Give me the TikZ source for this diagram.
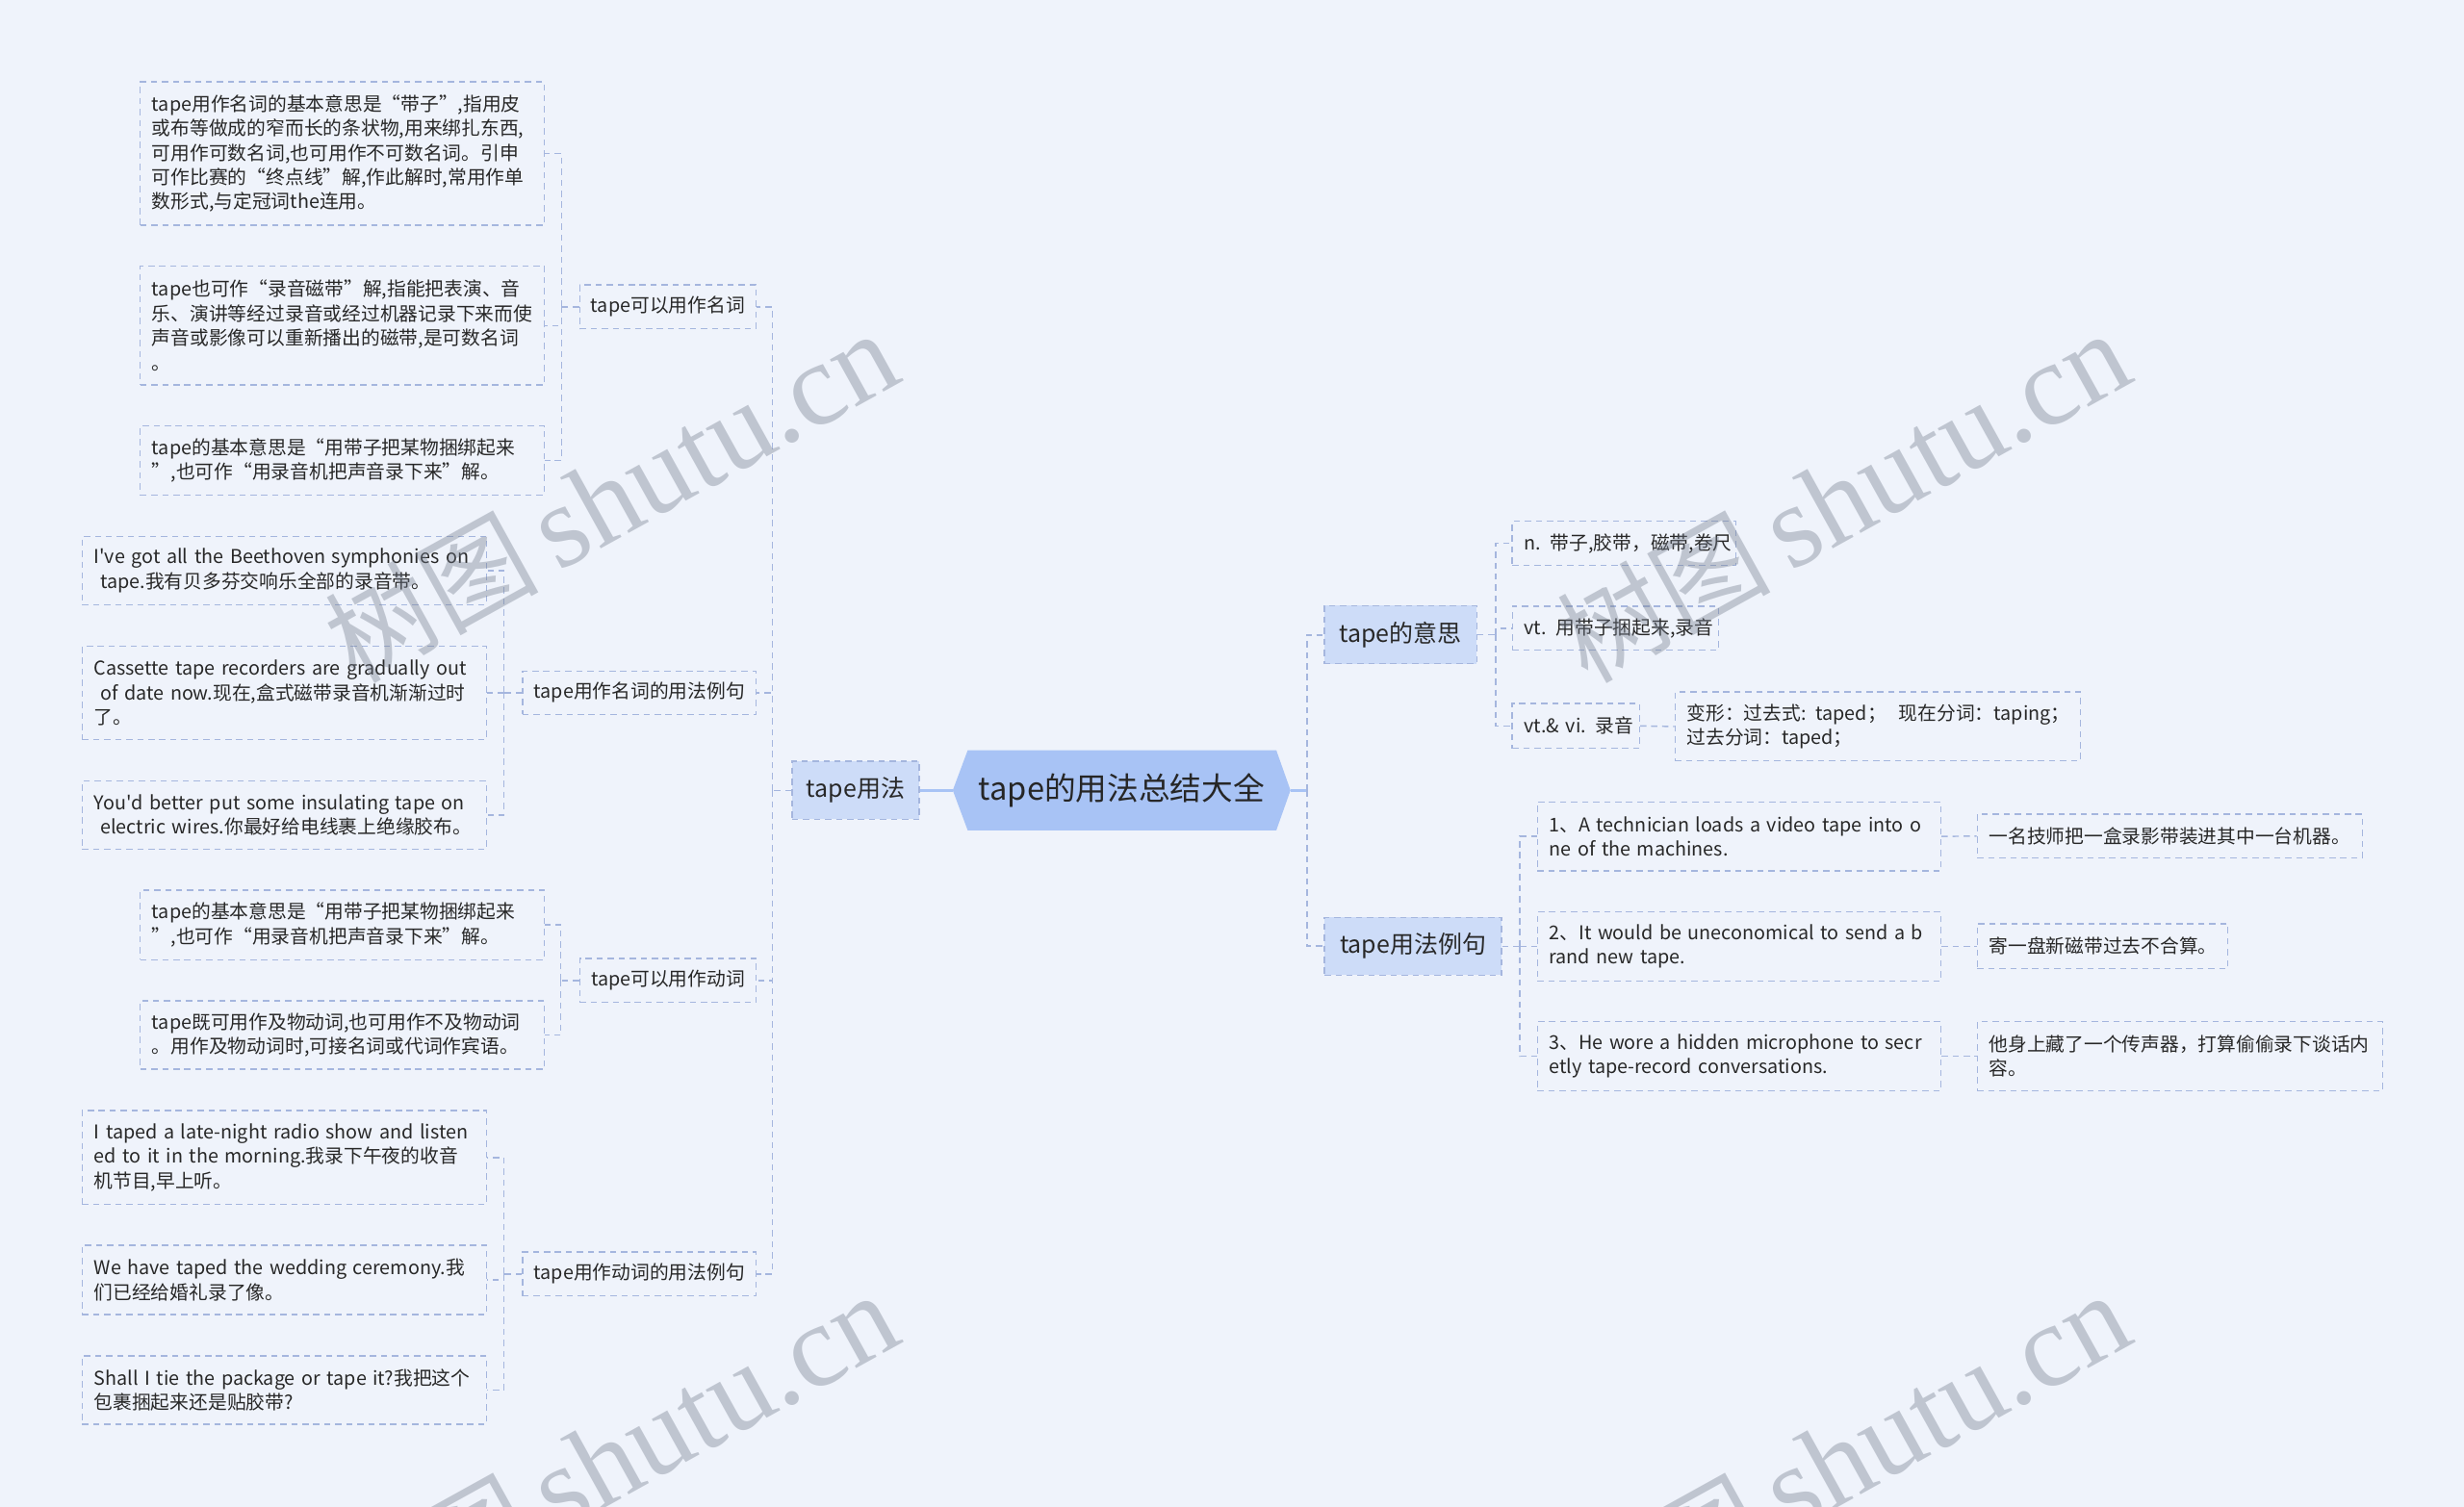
\documentclass[tikz,border=0pt]{standalone}
\usepackage{fontspec}
\setmainfont{Noto Sans CJK SC}
\newfontfamily\wmfont{Liberation Serif}
\usetikzlibrary{backgrounds}
\definecolor{bg}{RGB}{239,243,251}
\definecolor{rootfill}{RGB}{168,195,245}
\definecolor{lvfill}{RGB}{205,220,248}
\definecolor{lnc}{RGB}{165,182,222}
\definecolor{txt}{RGB}{40,40,40}
\definecolor{wm}{RGB}{115,124,140}
\tikzset{
  basetext/.style={text=txt, inner sep=0pt, font=\fontsize{12.1}{15.6}\selectfont},
  leafbox/.style={basetext, draw=lnc, dash pattern=on 4pt off 3pt, line width=0.8pt, align=left, inner xsep=7.5pt},
  catbox/.style={basetext, draw=lnc, dash pattern=on 4pt off 3pt, line width=0.8pt, align=center},
  lvbox/.style={basetext, draw=lnc, fill=lvfill, dash pattern=on 4pt off 3pt, line width=0.8pt, font=\fontsize{15.3}{17}\selectfont},
  conn/.style={draw=lnc, line width=0.9pt, dash pattern=on 4pt off 3pt},
  rootline/.style={draw=rootfill, line width=1.8pt},
  wmark/.style={text=wm, opacity=0.38, rotate=29, anchor=base west, inner sep=0pt}
}
\newcommand\wmtext{{\fontsize{68}{68}\selectfont 树图}\hspace{12pt}{\wmfont\fontsize{75}{75}\selectfont shutu.cn}}
\newcommand\apos{\textquotesingle}
\begin{document}
\begin{tikzpicture}[x=1pt,y=-1pt]
\useasboundingbox (0,0) rectangle (1568,959);
\begin{scope}[on background layer]
\fill[bg] (0,0) rectangle (1568,959);
\end{scope}

% root and level one
\node[basetext, font=\fontsize{20}{22}\selectfont, text=black!85, minimum width=214.5pt, minimum height=50.5pt] (root) at (713.75,503) {tape的用法总结大全};
\begin{scope}[on background layer]
\fill[rootfill] (root.west) -- ([xshift=9.5pt]root.north west) -- ([xshift=-9pt]root.north east) -- (root.east) -- ([xshift=-9pt]root.south east) -- ([xshift=9.5pt]root.south west) -- cycle;
\end{scope}
\node[lvbox, minimum width=81pt, minimum height=37pt] (use) at (544.5,503) {tape用法};
\node[lvbox, minimum width=97pt, minimum height=37pt] (mean) at (891.2,404) {tape的意思};
\node[lvbox, minimum width=112.7pt, minimum height=36.7pt] (ex) at (899.2,602.3) {tape用法例句};

% categories
\node[catbox, minimum width=112pt, minimum height=28pt] (c1) at (425,195.3) {tape可以用作名词};
\node[catbox, minimum width=148.8pt, minimum height=27.6pt] (c2) at (406.9,440.9) {tape用作名词的用法例句};
\node[catbox, minimum width=112.4pt, minimum height=28pt] (c3) at (425.1,624) {tape可以用作动词};
\node[catbox, minimum width=148.8pt, minimum height=28pt] (c4) at (406.9,810.8) {tape用作动词的用法例句};

% leaves left
\node[leafbox, text width=242.3pt, minimum height=91.2pt] (L1) at (217.9,97.7) {\mbox{tape用作名词的基本意思是“带子”,指用皮}\\或布等做成的窄而长的条状物,用来绑扎东西,\\可用作可数名词,也可用作不可数名词。引申\\可作比赛的“终点线”解,作此解时,常用作单\\\mbox{数形式,与定冠词the连用。}};
\node[leafbox, text width=242.3pt, minimum height=75.5pt] (L2) at (217.9,207.2) {\mbox{tape也可作“录音磁带”解,指能把表演、音}\\乐、演讲等经过录音或经过机器记录下来而使\\声音或影像可以重新播出的磁带,是可数名词\\。};
\node[leafbox, text width=242.3pt, minimum height=43.9pt] (L3) at (217.9,293) {\mbox{tape的基本意思是“用带子把某物捆绑起来}\\”,也可作“用录音机把声音录下来”解。};
\node[leafbox, text width=242.3pt, minimum height=43.4pt] (L4) at (181,363.1) {\mbox{I\apos ve got all the Beethoven symphonies on}\\\mbox{ tape.我有贝多芬交响乐全部的录音带。}};
\node[leafbox, text width=242.3pt, minimum height=59.2pt] (L5) at (181,441) {\mbox{Cassette tape recorders are gradually out}\\\mbox{ of date now.现在,盒式磁带录音机渐渐过时}\\了。};
\node[leafbox, text width=242.3pt, minimum height=43.3pt] (L6) at (181,518.8) {\mbox{You\apos d better put some insulating tape on}\\\mbox{ electric wires.你最好给电线裹上绝缘胶布。}};
\node[leafbox, text width=242.3pt, minimum height=44.2pt] (L7) at (217.9,588.7) {\mbox{tape的基本意思是“用带子把某物捆绑起来}\\”,也可作“用录音机把声音录下来”解。};
\node[leafbox, text width=242.3pt, minimum height=43.5pt] (L8) at (217.9,658.8) {\mbox{tape既可用作及物动词,也可用作不及物动词}\\。用作及物动词时,可接名词或代词作宾语。};
\node[leafbox, text width=242.3pt, minimum height=59.8pt] (L9) at (181,736.7) {\mbox{I taped a late-night radio show and listen}\\\mbox{ed to it in the morning.我录下午夜的收音}\\机节目,早上听。};
\node[leafbox, text width=242.3pt, minimum height=44.2pt] (L10) at (181,814.6) {\mbox{We have taped the wedding ceremony.我}\\们已经给婚礼录了像。};
\node[leafbox, text width=242.3pt, minimum height=43.5pt] (L11) at (181,884.8) {\mbox{Shall I tie the package or tape it?我把这个}\\包裹捆起来还是贴胶带?};

% leaves right
\node[leafbox, text width=127.4pt, minimum height=28.2pt] (R1) at (1033.5,345.9) {\mbox{n. 带子,胶带，磁带,卷尺}};
\node[leafbox, text width=116.1pt, minimum height=28pt] (R2) at (1027.9,399.9) {\mbox{vt. 用带子捆起来,录音}};
\node[leafbox, text width=66pt, minimum height=28.5pt] (R3) at (1002.8,462) {\mbox{vt.\& vi. 录音}};
\node[leafbox, text width=242.9pt, minimum height=43.9pt] (R3a) at (1194.9,462.4) {\mbox{变形：过去式: taped；\ \ 现在分词：taping；}\\过去分词：taped；};
\node[leafbox, text width=241.8pt, minimum height=43.9pt] (E1) at (1106.7,532.3) {\mbox{1、A technician loads a video tape into o}\\\mbox{ne of the machines.}};
\node[leafbox, text width=241.8pt, minimum height=43.9pt] (E2) at (1106.7,602.3) {\mbox{2、It would be uneconomical to send a b}\\\mbox{rand new tape.}};
\node[leafbox, text width=241.8pt, minimum height=43.9pt] (E3) at (1106.7,672.3) {\mbox{3、He wore a hidden microphone to secr}\\\mbox{etly tape-record conversations.}};
\node[leafbox, text width=229.9pt, minimum height=28pt] (E1c) at (1380.7,532.2) {一名技师把一盒录影带装进其中一台机器。};
\node[leafbox, text width=144.5pt, minimum height=28.6pt] (E2c) at (1338,602.3) {寄一盘新磁带过去不合算。};
\node[leafbox, text width=242.9pt, minimum height=43.9pt] (E3c) at (1387.2,672.3) {他身上藏了一个传声器，打算偷偷录下谈话内\\容。};

% connectors
\draw[rootline] (root.west) -- (use.east);
\draw[rootline] (root.east) -- ([xshift=10.5pt]root.east) coordinate (rb);
\draw[conn, line width=1.2pt] (rb) |- (mean.west);
\draw[conn, line width=1.2pt] (rb) |- (ex.west);

\draw[conn] (use.west) -- ([xshift=-12.2pt]use.west) coordinate (lb);
\foreach \c in {c1,c2,c3,c4} \draw[conn] (lb) |- (\c.east);

\draw[conn] (c1.west) -- ([xshift=-11.2pt]c1.west) coordinate (b1);
\foreach \l in {L1,L2,L3} \draw[conn] (b1) |- (\l.east);
\draw[conn] (c2.west) -- ([xshift=-11.5pt]c2.west) coordinate (b2);
\foreach \l in {L4,L5,L6} \draw[conn] (b2) |- (\l.east);
\draw[conn] (c3.west) -- ([xshift=-11.6pt]c3.west) coordinate (b3);
\foreach \l in {L7,L8} \draw[conn] (b3) |- (\l.east);
\draw[conn] (c4.west) -- ([xshift=-11.5pt]c4.west) coordinate (b4);
\foreach \l in {L9,L10,L11} \draw[conn] (b4) |- (\l.east);

\draw[conn] (mean.east) -- ([xshift=11.6pt]mean.east) coordinate (b5);
\foreach \l in {R1,R2,R3} \draw[conn] (b5) |- (\l.west);
\draw[conn] (R3.east) -- (R3a.west);

\draw[conn] (ex.east) -- ([xshift=11.3pt]ex.east) coordinate (b6);
\foreach \l in {E1,E2,E3} \draw[conn] (b6) |- (\l.west);
\draw[conn] (E1.east) -- (E1c.west);
\draw[conn] (E2.east) -- (E2c.west);
\draw[conn] (E3.east) -- (E3c.west);

% watermarks
\node[wmark] (wm1) at (226,436) {\wmtext};
\node[wmark] (wm2) at (1010,436) {\wmtext};
\node[wmark] (wm3) at (226,1048) {\wmtext};
\node[wmark] (wm4) at (1010,1048) {\wmtext};
\end{tikzpicture}
\end{document}
